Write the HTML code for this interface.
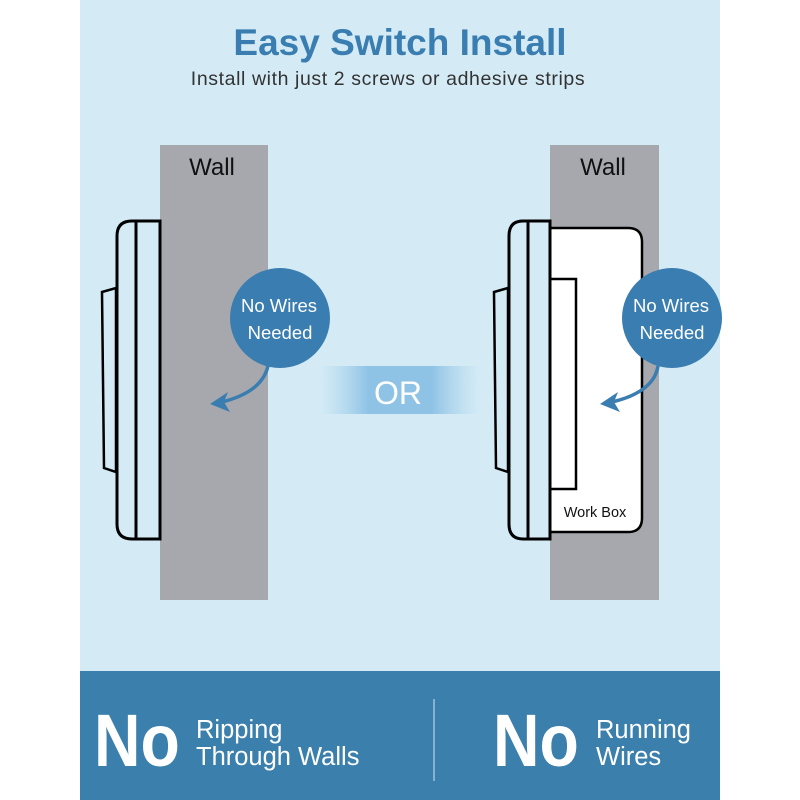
<!DOCTYPE html>
<html><head><meta charset="utf-8"><style>
body{margin:0;background:#fff}
svg{display:block}
text{font-family:"Liberation Sans",sans-serif}
</style></head><body>
<svg width="800" height="800" viewBox="0 0 800 800" xmlns="http://www.w3.org/2000/svg">
<defs>
<linearGradient id="g" x1="0" x2="1" y1="0" y2="0">
<stop offset="0" stop-color="#a9d2ec" stop-opacity="0"/>
<stop offset="0.3" stop-color="#8fc3e6"/>
<stop offset="0.7" stop-color="#8fc3e6"/>
<stop offset="1" stop-color="#a9d2ec" stop-opacity="0"/>
</linearGradient>
</defs>
<rect x="0" y="0" width="800" height="800" fill="#fff"/>
<rect x="80" y="0" width="640" height="672" fill="#d4ebf6"/>
<text x="400" y="55" text-anchor="middle" font-size="37" font-weight="bold" fill="#3a7db1">Easy Switch Install</text>
<text x="388" y="85" text-anchor="middle" font-size="19.5" letter-spacing="0.6" fill="#333">Install with just 2 screws or adhesive strips</text>

<!-- left -->
<rect x="160" y="145" width="108" height="455" fill="#a7a8ad"/>
<text x="212" y="175" text-anchor="middle" font-size="24" fill="#111">Wall</text>
<polygon points="102,292 116,288 116,472 104,468" fill="#d4ebf6" stroke="#000" stroke-width="2.5"/>
<path d="M160,221 H132 Q117,221 117,236 V524 Q117,539 132,539 H160 Z" fill="#d4ebf6" stroke="#000" stroke-width="3"/>
<line x1="136" y1="221" x2="136" y2="539" stroke="#000" stroke-width="3"/>
<circle cx="280" cy="318" r="50" fill="#3a7db1"/>
<text x="279" y="312" text-anchor="middle" font-size="18.5" fill="#fff">No Wires</text>
<text x="280" y="339" text-anchor="middle" font-size="18.5" fill="#fff">Needed</text>
<path d="M268,366 Q262,392 222,402" fill="none" stroke="#3a7db1" stroke-width="3.5"/>
<polygon points="210,404 228,392 224,402 230,412" fill="#3a7db1"/>

<!-- OR -->
<rect x="320" y="366" width="160" height="48" fill="url(#g)"/>
<text x="398" y="404" text-anchor="middle" font-size="32" fill="#fff">OR</text>

<!-- right -->
<rect x="550" y="145" width="109" height="455" fill="#a7a8ad"/>
<text x="603" y="175" text-anchor="middle" font-size="24" fill="#111">Wall</text>
<path d="M550,228 H628 Q642,228 642,242 V518 Q642,532 628,532 H550 Z" fill="#fff" stroke="#000" stroke-width="2.5"/>
<rect x="550" y="279" width="26" height="210" fill="#fff" stroke="#000" stroke-width="2.5"/>
<text x="595" y="517" text-anchor="middle" font-size="14.5" fill="#111">Work Box</text>
<polygon points="494,292 508,288 508,472 496,468" fill="#d4ebf6" stroke="#000" stroke-width="2.5"/>
<path d="M550,221 H523 Q509,221 509,236 V524 Q509,539 523,539 H550 Z" fill="#d4ebf6" stroke="#000" stroke-width="3"/>
<line x1="528" y1="221" x2="528" y2="539" stroke="#000" stroke-width="3"/>
<circle cx="672" cy="318" r="50" fill="#3a7db1"/>
<text x="671" y="312" text-anchor="middle" font-size="18.5" fill="#fff">No Wires</text>
<text x="672" y="339" text-anchor="middle" font-size="18.5" fill="#fff">Needed</text>
<path d="M658,366 Q654,392 612,402" fill="none" stroke="#3a7db1" stroke-width="3.5"/>
<polygon points="600,404 618,392 614,402 620,412" fill="#3a7db1"/>

<!-- bottom -->
<rect x="80" y="671" width="640" height="129" fill="#3b7fad"/>
<line x1="434" y1="699" x2="434" y2="781" stroke="#9cc4df" stroke-width="1.5"/>
<text transform="translate(94,766) scale(0.87,1)" font-size="74" font-weight="bold" fill="#fff">No</text>
<text x="196" y="738" font-size="25.5" fill="#fff">Ripping</text>
<text x="196" y="765" font-size="25.5" fill="#fff">Through Walls</text>
<text transform="translate(493,766) scale(0.87,1)" font-size="74" font-weight="bold" fill="#fff">No</text>
<text x="596" y="738" font-size="25.5" fill="#fff">Running</text>
<text x="596" y="765" font-size="25.5" fill="#fff">Wires</text>
</svg>
</body></html>
